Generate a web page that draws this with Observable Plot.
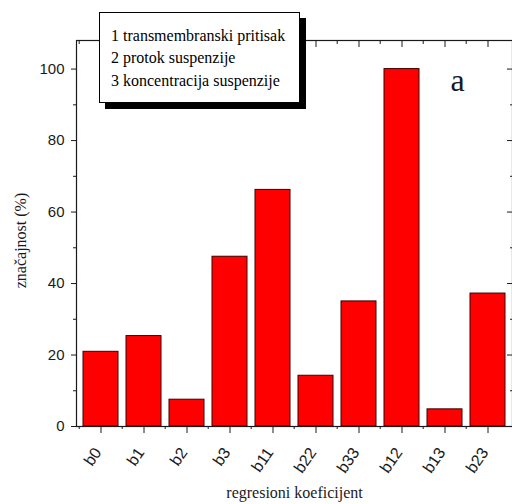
<!DOCTYPE html>
<html>
<head>
<meta charset="utf-8">
<script src="https://cdn.jsdelivr.net/npm/d3@7"></script>
<script src="https://cdn.jsdelivr.net/npm/@observablehq/plot@0.6"></script>
<style>
  html, body { margin: 0; padding: 0; background: #fff; }
  #wrap { position: relative; width: 512px; height: 504px; overflow: hidden; }
  #legend {
    position: absolute; left: 99px; top: 12px; width: 201px; height: 91px;
    box-sizing: border-box; border: 1px solid #000; background: #fff;
    box-shadow: 6px 6px 0 #000;
    font-family: "Liberation Serif", "Times New Roman", serif; font-size: 16px; line-height: 22.5px;
    padding: 11.5px 0 0 11px; color: #000; white-space: nowrap;
  }
</style>
</head>
<body>
<div id="wrap"></div>
<script>
const categories = ["b0", "b1", "b2", "b3", "b11", "b22", "b33", "b12", "b13", "b23"];
const values = [20.9, 25.3, 7.5, 47.5, 66.2, 14.2, 35.0, 100, 4.8, 37.2];
const yMajorTicks = [0, 20, 40, 60, 80, 100];
const yMinorTicks = [10, 30, 50, 70, 90];
const legendLines = ["1 transmembranski pritisak", "2 protok suspenzije", "3 koncentracija suspenzije"];
const xTitle = "regresioni koeficijent";
const yTitle = "značajnost (%)";
const panelLabel = "a";

const data = categories.map((c, i) => ({name: c, value: values[i]}));
const step = (512 - 76) / categories.length;
const blank = () => "";
const ink = "#1a1a1a";
const serif = "Liberation Serif, Times New Roman, serif";

const chart = Plot.plot({
  width: 512,
  height: 504,
  marginLeft: 76,
  marginRight: 0,
  marginTop: 40,
  marginBottom: 78,
  style: {fontFamily: "Liberation Sans, Arial, sans-serif", fontSize: "15px", color: ink, background: "#fff"},
  x: {domain: categories, paddingInner: 0.19, paddingOuter: 0.095},
  y: {domain: [0, 108]},
  marks: [
    Plot.barY(data, {x: "name", y: "value", fill: "#ff0000", stroke: "#3a0000", strokeWidth: 1}),
    Plot.frame({stroke: ink, strokeWidth: 1.2}),
    // left axis
    Plot.axisY({anchor: "left", ticks: yMajorTicks, tickSize: 5, tickPadding: 7, label: null, stroke: ink}),
    Plot.axisY({anchor: "left", ticks: yMinorTicks, tickSize: 3, tickFormat: blank, label: null, stroke: ink}),
    // right axis (inward ticks)
    Plot.axisY({anchor: "right", ticks: yMajorTicks, tickSize: 6, dx: -6, tickFormat: blank, label: null, stroke: ink}),
    Plot.axisY({anchor: "right", ticks: yMinorTicks, tickSize: 3, dx: -3, tickFormat: blank, label: null, stroke: ink}),
    // bottom axis: ticks, then rotated labels
    Plot.axisX({anchor: "bottom", tickSize: 7, tickFormat: blank, label: null, stroke: ink}),
    Plot.axisX({anchor: "bottom", tickSize: 0, tickPadding: 23, dx: -3, tickRotate: -55, fontSize: 16, label: null, stroke: "none"}),
    Plot.axisX({anchor: "bottom", tickSize: 3, dx: -step / 2, tickFormat: blank, label: null, stroke: ink}),
    // top axis (inward ticks)
    Plot.axisX({anchor: "top", tickSize: 6, dy: 6, tickFormat: blank, label: null, stroke: ink}),
    Plot.axisX({anchor: "top", tickSize: 3, dy: 3, dx: -step / 2, tickFormat: blank, label: null, stroke: ink}),
    // titles
    Plot.text([xTitle], {frameAnchor: "bottom", textAnchor: "middle", lineAnchor: "middle", dy: 66, fontFamily: serif, fontSize: 16, fill: ink}),
    Plot.text([yTitle], {frameAnchor: "left", textAnchor: "middle", lineAnchor: "middle", rotate: -90, dx: -56, dy: 7, fontFamily: serif, fontSize: 16, fill: ink}),
    Plot.text([panelLabel], {frameAnchor: "top-right", textAnchor: "middle", lineAnchor: "middle", dx: -55, dy: 40, fontFamily: serif, fontSize: 32, fill: ink})
  ]
});

const wrap = document.getElementById("wrap");
wrap.appendChild(chart);
const legend = document.createElement("div");
legend.id = "legend";
legendLines.forEach(t => {
  const d = document.createElement("div");
  d.textContent = t;
  legend.appendChild(d);
});
wrap.appendChild(legend);
</script>
</body>
</html>
